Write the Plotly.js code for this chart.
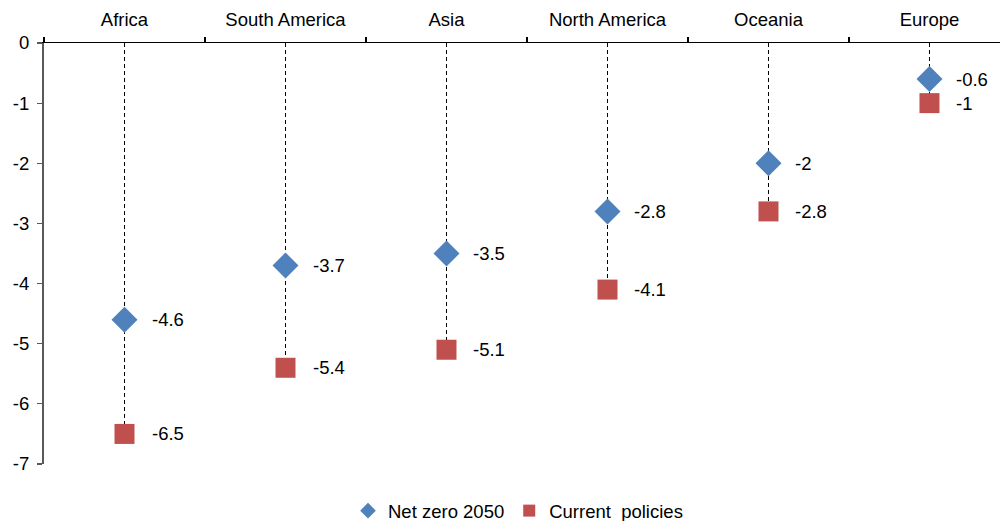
<!DOCTYPE html>
<html>
<head>
<meta charset="utf-8">
<script src="https://cdn.plot.ly/plotly-3.0.1.min.js"></script>
<style>html,body{margin:0;padding:0;background:#fff;}#chart{width:1000px;height:521px;}</style>
</head>
<body>
<div id="chart"></div>
<script>
var regions = ["Africa", "South America", "Asia", "North America", "Oceania", "Europe"];
var netZero2050 = [-4.6, -3.7, -3.5, -2.8, -2.0, -0.6];
var currentPolicies = [-6.5, -5.4, -5.1, -4.1, -2.8, -1.0];
var yTickVals = [0, -1, -2, -3, -4, -5, -6, -7];
var yTickText = ["0", "-1", "-2", "-3", "-4", "-5", "-6", "-7"];

var BLUE = "#4F81BD", RED = "#C0504D";
var FONT = "Liberation Sans, Arial, sans-serif";
var FS = 18.5;

// dashed drop lines from 0 to lowest value
var lx = [], ly = [];
regions.forEach(function (r, i) {
  lx.push(r, r, null);
  ly.push(0, Math.min(netZero2050[i], currentPolicies[i]), null);
});

var traces = [
  {x: lx, y: ly, mode: "lines", type: "scatter", showlegend: false, hoverinfo: "skip",
   line: {color: "#000", width: 1, dash: "4px,3px"}},
  {x: regions, y: netZero2050, name: "Net zero 2050", mode: "markers", type: "scatter",
   marker: {symbol: "diamond", size: 20, color: BLUE}},
  {x: regions, y: currentPolicies, name: "Current  policies", mode: "markers", type: "scatter",
   marker: {symbol: "square", size: 20, color: RED}}
];

var annotations = [];
[netZero2050, currentPolicies].forEach(function (arr) {
  arr.forEach(function (v, i) {
    annotations.push({x: regions[i], y: v, xref: "x", yref: "y", text: String(v),
      showarrow: false, xanchor: "left", yanchor: "middle", xshift: 25,
      font: {family: FONT, size: FS, color: "#000"}});
  });
});

var layout = {
  width: 1000, height: 521,
  margin: {l: 44, r: 0, t: 43, b: 57, autoexpand: false},
  paper_bgcolor: "#fff", plot_bgcolor: "#fff",
  font: {family: FONT, size: FS, color: "#000"},
  showlegend: true,
  legend: {orientation: "h", xref: "container", x: 0.518, xanchor: "center",
    yref: "container", y: 0.019, yanchor: "middle", itemwidth: 30,
    itemsizing: "constant", font: {family: FONT, size: FS, color: "#000"}, traceorder: "normal"},
  xaxis: {type: "category", side: "top", range: [-0.5, 5.438], showgrid: false, zeroline: false,
    showline: true, linecolor: "#000", linewidth: 1.5, ticks: "outside", tickson: "boundaries",
    ticklen: 5, tickcolor: "#000", tickwidth: 1.2, ticklabelstandoff: 8,
    tickfont: {family: FONT, size: FS, color: "#000"}, fixedrange: true},
  yaxis: {range: [-7, 0], showgrid: false, zeroline: false, showline: true, linecolor: "#595959",
    linewidth: 2, ticks: "outside", ticklen: 5, tickcolor: "#595959", tickwidth: 1.2,
    tickvals: yTickVals, ticktext: yTickText, ticklabelstandoff: 4,
    tickfont: {family: FONT, size: FS, color: "#000"}, fixedrange: true},
  annotations: annotations
};

Plotly.newPlot("chart", traces, layout, {displayModeBar: false, staticPlot: true});
</script>
</body>
</html>
